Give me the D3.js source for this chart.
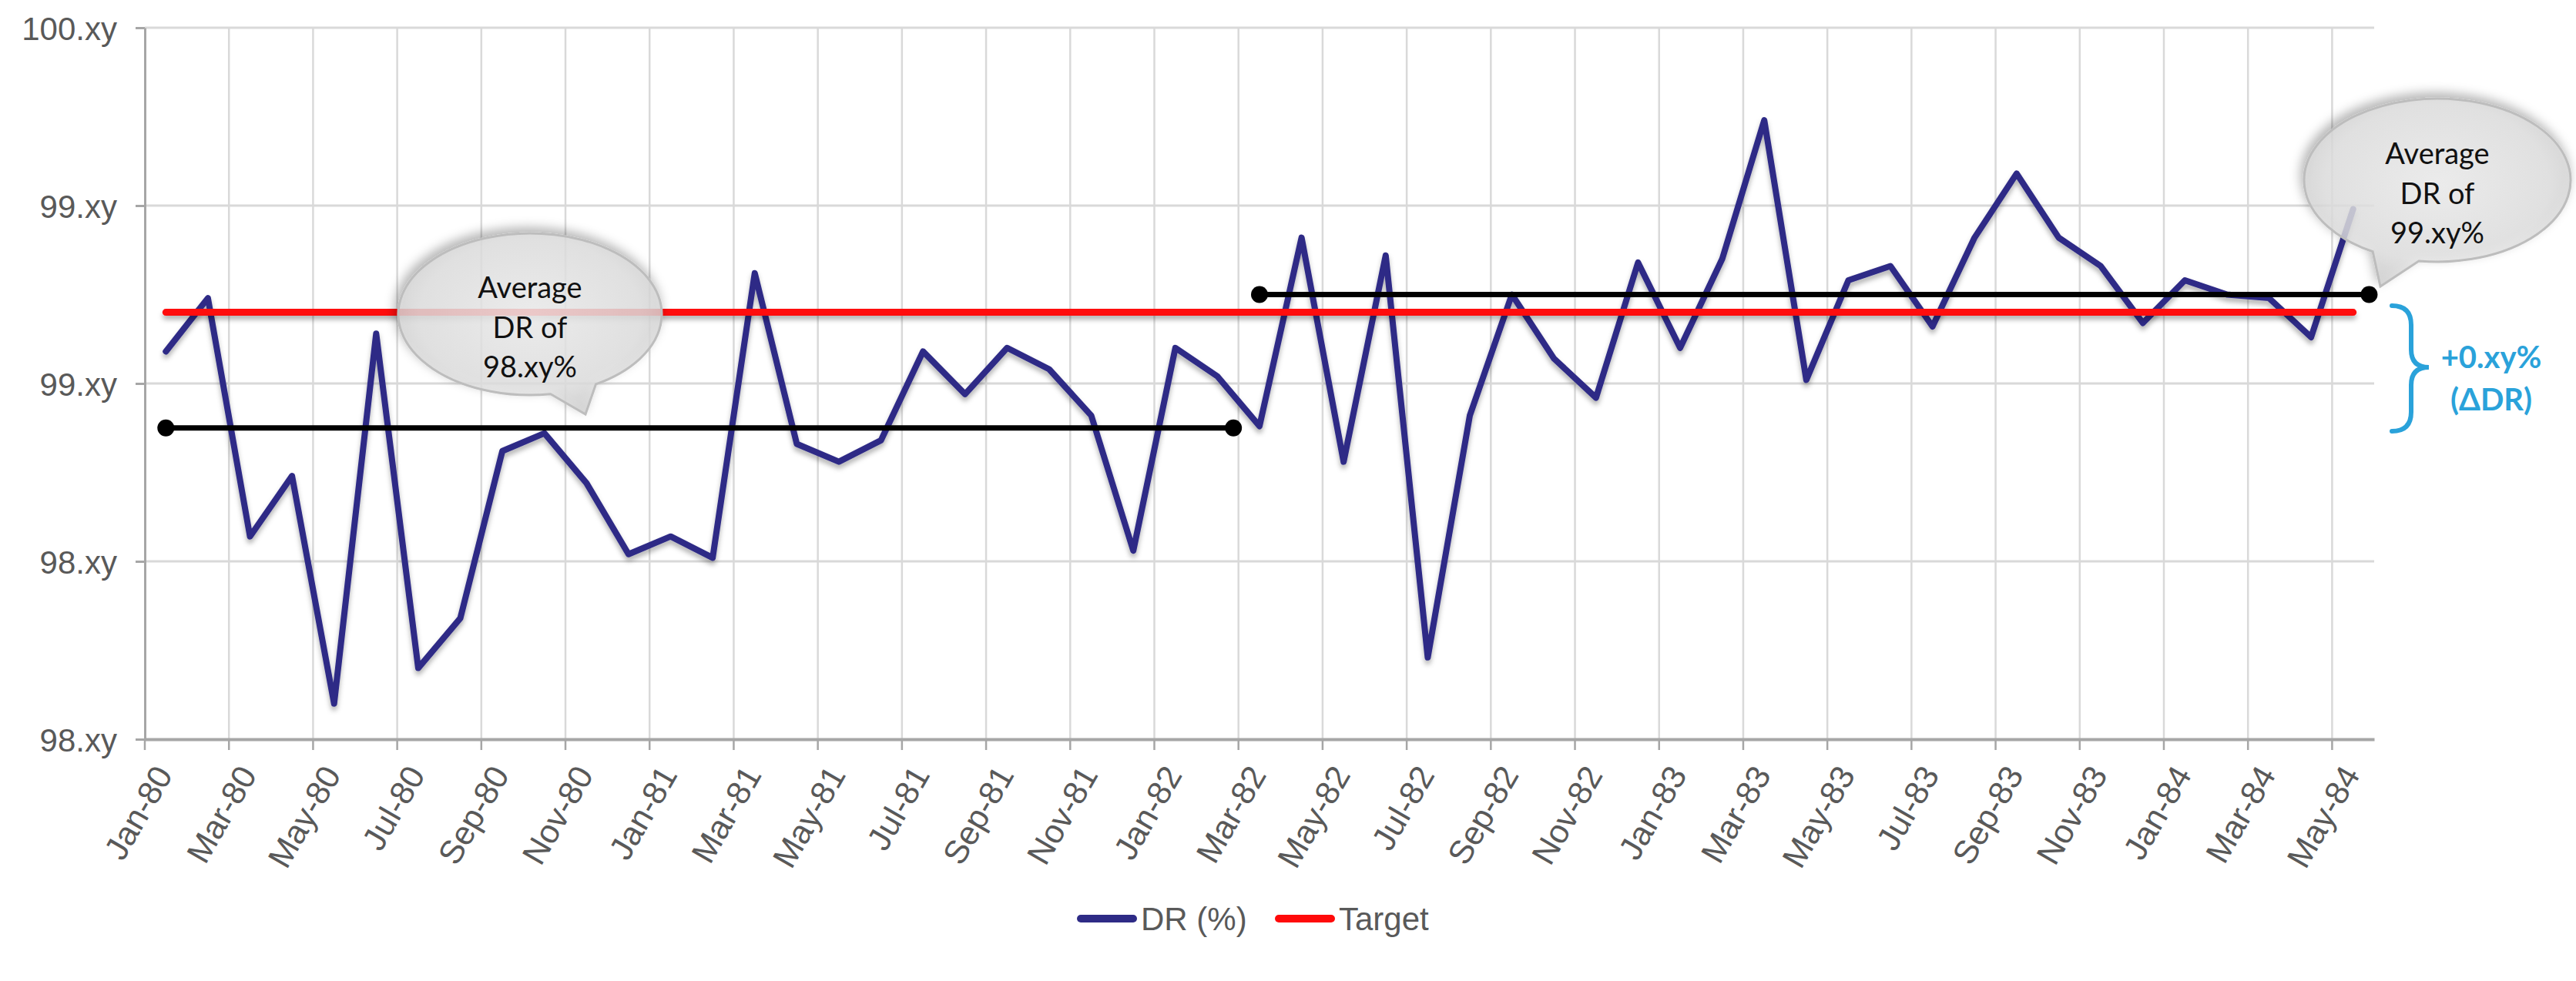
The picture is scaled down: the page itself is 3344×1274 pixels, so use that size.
<!DOCTYPE html>
<html>
<head>
<meta charset="utf-8">
<script src="https://cdn.jsdelivr.net/npm/d3@7"></script>
<style>
  body { margin: 0; background: #fff; }
  text { font-family: "Liberation Sans", Arial, sans-serif; }
</style>
</head>
<body>
<svg id="chart"></svg>
<script>
// categories: one per month, Jan-80 .. May-84
const months = d3.timeMonths(new Date(1980, 0, 1), new Date(1984, 5, 1)).map(d3.timeFormat('%b-%y'));

// DR (%)
const drValues = [
  99.09, 99.24, 98.57, 98.74, 98.10, 99.14, 98.20, 98.34, 98.81, 98.86,
  98.72, 98.52, 98.57, 98.51, 99.31, 98.83, 98.78, 98.84, 99.09, 98.97,
  99.10, 99.04, 98.91, 98.53, 99.10, 99.02, 98.88, 99.41, 98.78, 99.36,
  98.23, 98.91, 99.25, 99.07, 98.96, 99.34, 99.10, 99.35, 99.74, 99.01,
  99.29, 99.33, 99.16, 99.41, 99.59, 99.41, 99.33, 99.17, 99.29, 99.25,
  99.24, 99.13, 99.49
];
const targetValue = 99.20;

const yTicks = [98, 98.5, 99, 99.5, 100];
const yTickLabels = ['98.xy', '98.xy', '99.xy', '99.xy', '100.xy'];

const avgPeriods = [
  { from: 'Jan-80', to: 'Feb-82', value: 98.875 },
  { from: 'Mar-82', to: 'May-84', value: 99.25 }
];
const bubbleTexts = [['Average', 'DR of', '98.xy%'], ['Average', 'DR of', '99.xy%']];
const deltaTexts = ['+0.xy%', '(\u0394DR)'];
const legendNames = ['DR (%)', 'Target'];

const width = 3344, height = 1274;
const margin = { top: 36, right: 262, bottom: 314, left: 188 };
const blue = '#2e2b86', red = '#ff0a0a', grey = '#595959', cyan = '#2aa2da';

const svg = d3.select('#chart').attr('width', width).attr('height', height);
svg.append('rect').attr('width', width).attr('height', height).attr('fill', '#fff');

const defs = svg.append('defs');
// user space units: the target line is flat, a bbox-relative region would be empty
const lineShadow = defs.append('filter').attr('id', 'lineShadow')
  .attr('filterUnits', 'userSpaceOnUse')
  .attr('x', 0).attr('y', 0).attr('width', width).attr('height', height);
lineShadow.append('feDropShadow').attr('dx', 0).attr('dy', 5).attr('stdDeviation', 3)
  .attr('flood-color', '#000').attr('flood-opacity', 0.3);

const bubbleShadow = defs.append('filter').attr('id', 'bubbleShadow')
  .attr('x', '-20%').attr('y', '-30%').attr('width', '140%').attr('height', '160%');
bubbleShadow.append('feDropShadow').attr('dx', -3).attr('dy', -6).attr('stdDeviation', 7)
  .attr('flood-color', '#000').attr('flood-opacity', 0.35);

const grad = defs.append('radialGradient').attr('id', 'bubbleFill')
  .attr('cx', '50%').attr('cy', '45%').attr('r', '60%');
grad.append('stop').attr('offset', '0%').attr('stop-color', '#efefef');
grad.append('stop').attr('offset', '70%').attr('stop-color', '#e1e1e1');
grad.append('stop').attr('offset', '100%').attr('stop-color', '#cbcbcb');

const x = d3.scaleBand()
  .domain(months)
  .range([margin.left, width - margin.right])
  .padding(0);
const bw = x.bandwidth();
const xc = m => x(m) + bw / 2;

const y = d3.scaleLinear()
  .domain([98, 100])
  .range([height - margin.bottom, margin.top]);

const tickMonths = months.filter((m, i) => i % 2 === 0);

// grid
const grid = svg.append('g');
grid.selectAll('line.h')
  .data(yTicks.slice(1))
  .join('line')
  .attr('class', 'h')
  .attr('x1', margin.left).attr('x2', width - margin.right)
  .attr('y1', d => y(d)).attr('y2', d => y(d))
  .attr('stroke', '#d9d9d9').attr('stroke-width', 3);
grid.selectAll('line.v')
  .data(tickMonths.slice(1))
  .join('line')
  .attr('class', 'v')
  .attr('x1', d => x(d)).attr('x2', d => x(d))
  .attr('y1', margin.top).attr('y2', height - margin.bottom)
  .attr('stroke', '#d9d9d9').attr('stroke-width', 2.5);

// y axis
const yaxis = d3.axisLeft(y)
  .tickValues(yTicks)
  .tickFormat((d, i) => yTickLabels[i])
  .tickSize(12)
  .tickSizeOuter(0)
  .tickPadding(24);
const yg = svg.append('g').attr('transform', `translate(${margin.left},0)`).call(yaxis);
yg.select('.domain').attr('stroke', '#a6a6a6').attr('stroke-width', 3);
yg.selectAll('.tick line').attr('stroke', '#a6a6a6').attr('stroke-width', 3);
yg.selectAll('.tick text')
  .attr('fill', grey)
  .style('font-size', '42px')
  .attr('dy', '0.36em');

// x axis: ticks at band starts, labels rotated
const xaxis = d3.axisBottom(x)
  .tickValues(tickMonths)
  .tickSize(14)
  .tickSizeOuter(0)
  .tickFormat(d => d);
const xg = svg.append('g').attr('transform', `translate(0,${height - margin.bottom})`).call(xaxis);
xg.select('.domain').attr('stroke', '#a6a6a6').attr('stroke-width', 4);
xg.selectAll('.tick line')
  .attr('stroke', '#a6a6a6').attr('stroke-width', 2.5)
  .attr('x1', -bw / 2).attr('x2', -bw / 2);
xg.selectAll('.tick text')
  .attr('fill', grey)
  .style('font-size', '43px')
  .attr('text-anchor', 'end')
  .attr('y', 0).attr('dy', 0)
  .attr('transform', 'translate(10,46) rotate(-60)');

// DR line
const drLine = d3.line()
  .x((d, i) => xc(months[i]))
  .y(d => y(d));
svg.append('path')
  .datum(drValues)
  .attr('fill', 'none')
  .attr('stroke', blue)
  .attr('stroke-width', 8)
  .attr('stroke-linejoin', 'round')
  .attr('stroke-linecap', 'round')
  .attr('filter', 'url(#lineShadow)')
  .attr('d', drLine);

// Target line
svg.append('path')
  .datum(months.map(() => targetValue))
  .attr('fill', 'none')
  .attr('stroke', red)
  .attr('stroke-width', 9)
  .attr('stroke-linecap', 'round')
  .attr('filter', 'url(#lineShadow)')
  .attr('d', drLine);

// average lines with end dots
const avgG = svg.append('g');
avgPeriods.forEach(p => {
  const x1 = xc(p.from), x2 = xc(p.to) + bw * 0.38, yy = y(p.value);
  avgG.append('line')
    .attr('x1', x1).attr('x2', x2).attr('y1', yy).attr('y2', yy)
    .attr('stroke', '#000').attr('stroke-width', 7);
  avgG.selectAll(null)
    .data([x1, x2])
    .enter().append('circle')
    .attr('cx', d => d).attr('cy', yy).attr('r', 11).attr('fill', '#000');
});

// speech bubbles
const bubbles = [
  { cx: 688, cy: 408, rx: 171, ry: 105, a1: 60, a2: 81, sweep: 0, tip: [760, 538] },
  { cx: 3164, cy: 234, rx: 173, ry: 106, a1: 119, a2: 98, sweep: 1, tip: [3090, 372] }
];
const pt = (b, a) => [b.cx + b.rx * Math.cos(a * Math.PI / 180), b.cy + b.ry * Math.sin(a * Math.PI / 180)];
bubbles.forEach((b, k) => {
  const p1 = pt(b, b.a1), p2 = pt(b, b.a2);
  const d = `M${p1[0]},${p1[1]} A${b.rx},${b.ry} 0 1 ${b.sweep} ${p2[0]},${p2[1]} L${b.tip[0]},${b.tip[1]} Z`;
  const g = svg.append('g');
  g.append('path')
    .attr('d', d)
    .attr('fill', 'url(#bubbleFill)')
    .attr('fill-opacity', 0.8)
    .attr('stroke', '#bdbdbd')
    .attr('stroke-width', 3)
    .attr('filter', 'url(#bubbleShadow)');
  g.selectAll('text')
    .data(bubbleTexts[k])
    .join('text')
    .attr('x', b.cx)
    .attr('y', (d, i) => b.cy - 21 + i * 51.5)
    .attr('text-anchor', 'middle')
    .style('font-family', 'Lato, "Open Sans", sans-serif')
    .style('font-size', '38px')
    .attr('fill', '#111')
    .text(d => d);
});

// brace + delta label
svg.append('path')
  .attr('d', 'M3105,397 Q3130,397 3130,422 L3130,454 Q3130,477 3153,477 Q3130,477 3130,500 L3130,535 Q3130,560 3105,560')
  .attr('fill', 'none')
  .attr('stroke', cyan)
  .attr('stroke-width', 6)
  .attr('stroke-linecap', 'round');
svg.selectAll('text.delta')
  .data(deltaTexts)
  .join('text')
  .attr('class', 'delta')
  .attr('x', 3234)
  .attr('y', (d, i) => 478 + i * 55)
  .attr('text-anchor', 'middle')
  .style('font-family', 'Lato, "Open Sans", sans-serif')
  .style('font-weight', 'bold')
  .style('font-size', '40px')
  .attr('fill', cyan)
  .text(d => d);

// legend
const legend = svg.append('g');
const legendColors = [blue, red];
const legendX = [1398, 1655];
legendNames.forEach((name, i) => {
  legend.append('line')
    .attr('x1', legendX[i] + 5).attr('x2', legendX[i] + 73)
    .attr('y1', 1193).attr('y2', 1193)
    .attr('stroke', legendColors[i]).attr('stroke-width', 10).attr('stroke-linecap', 'round');
  legend.append('text')
    .attr('x', legendX[i] + 83).attr('y', 1193).attr('dy', '0.36em')
    .attr('fill', grey)
    .style('font-size', '42px')
    .text(name);
});
</script>
</body>
</html>
